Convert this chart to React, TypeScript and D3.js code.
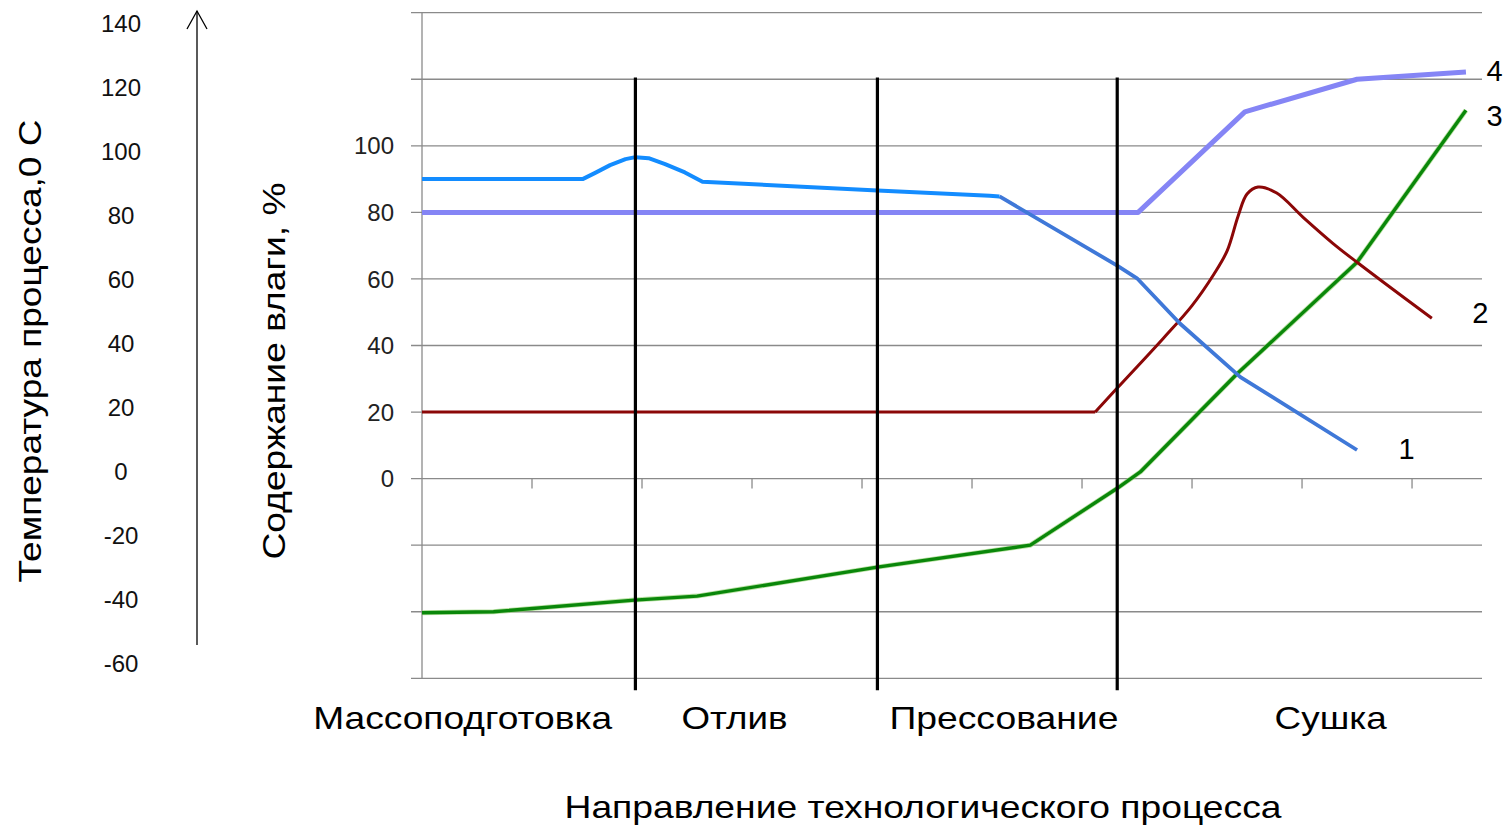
import React from "react";
import * as d3 from "d3";

// ---------- data ----------
// x in process units (axis tick step = 1), y in moisture scale units
const moistureTicks = [0, 20, 40, 60, 80, 100];
const gridValues = [-60, -40, -20, 0, 20, 40, 60, 80, 100, 120, 140];
const temperatureTicks = [140, 120, 100, 80, 60, 40, 20, 0, -20, -40, -60];
const xTicks = [1, 2, 3, 4, 5, 6, 7, 8, 9];
const stageBoundaries = [1.94, 4.14, 6.32];
const stageLabels = ["Массоподготовка", "Отлив", "Прессование", "Сушка"];
const stageCenters = [0.37, 2.84, 5.29, 8.26];
const stageWidths = [299, 106, 229, 112];

const series1Early: [number, number][] = [
  [0, 90], [1.46, 90], [1.57, 91.8], [1.71, 94.2], [1.85, 96], [1.94, 96.6],
  [2.06, 96.3], [2.21, 94.5], [2.39, 92], [2.55, 89.2], [4.14, 86.6], [5.16, 85.0], [5.25, 84.8],
];
const series1Late: [number, number][] = [
  [5.25, 84.8], [6.32, 64], [6.5, 60.2], [6.89, 46.6], [7.44, 30.5], [8.5, 8.6],
];
const series2Flat: [number, number][] = [
  [0, 20], [6.12, 20],
];
const series2Rise: [number, number][] = [
  [6.12, 20], [6.32, 27.2], [6.74, 42.2], [7.0, 52], [7.2, 61.5],
  [7.32, 68.5], [7.42, 79], [7.5, 85.5], [7.6, 87.6], [7.77, 85.8], [8.01, 78.5],
  [8.28, 70.7], [8.5, 65], [8.74, 59], [9.18, 48.2],
];
const series3: [number, number][] = [
  [0, -40.3], [0.65, -40], [1.93, -36.5], [2.5, -35.3], [4.14, -26.6], [5.53, -20],
  [6.32, -2.9], [6.53, 2], [7.41, 31.5], [8.5, 65], [9.49, 110.7],
];
const series4: [number, number][] = [
  [0, 80], [6.51, 80], [7.48, 110.2], [8.5, 120], [9.49, 122.2],
];
const seriesLabels = [
  { name: "1", x: 8.95, y: 9 },
  { name: "2", x: 9.62, y: 50 },
  { name: "3", x: 9.75, y: 109 },
  { name: "4", x: 9.75, y: 122.5 },
];

const W = 1506;
const H = 828;
const FONT = "'Liberation Sans', Arial, sans-serif";

export default function App() {
  const x = d3.scaleLinear().domain([0, 9.636]).range([422, 1482]);
  const y = d3.scaleLinear().domain([-60, 140]).range([678.3, 12.7]);
  const yTemp = d3.scaleLinear().domain([-60, 140]).range([663, 23]);

  const line = d3
    .line<[number, number]>()
    .x((d) => x(d[0]))
    .y((d) => y(d[1]));
  const smooth = d3
    .line<[number, number]>()
    .x((d) => x(d[0]))
    .y((d) => y(d[1]))
    .curve(d3.curveCatmullRom.alpha(0.5));

  return (
    <svg
      width={W}
      height={H}
      style={{ position: "absolute", left: 0, top: 0, background: "#fff" }}
      fontFamily={FONT}
    >
      <rect x={0} y={0} width={W} height={H} fill="#fff" />
      {/* grid lines */}
      {gridValues.map((v) => (
        <line key={v} x1={411} x2={1482} y1={y(v)} y2={y(v)} stroke="#8a8a8a" strokeWidth={1.3} />
      ))}
      {/* left plot axis */}
      <line x1={422} x2={422} y1={y(140)} y2={y(-60)} stroke="#8a8a8a" strokeWidth={1.3} />
      {/* x ticks on zero line */}
      {xTicks.map((t) => (
        <line key={t} x1={x(t)} x2={x(t)} y1={y(0)} y2={y(0) + 10} stroke="#8a8a8a" strokeWidth={1.3} />
      ))}
      {/* moisture labels */}
      {moistureTicks.map((v) => (
        <text key={v} x={394} y={y(v)} dy="0.36em" textAnchor="end" fontSize={24} fill="#222">
          {v}
        </text>
      ))}
      {/* temperature labels */}
      {temperatureTicks.map((v) => (
        <text key={v} x={121} y={yTemp(v)} dy="0.36em" textAnchor="middle" fontSize={24} fill="#111">
          {v}
        </text>
      ))}
      {/* arrow */}
      <line x1={197} x2={197} y1={11} y2={645} stroke="#000" strokeWidth={1.3} />
      <path d="M187,29 L197,11 L207,29" fill="none" stroke="#000" strokeWidth={1.3} />
      {/* axis titles */}
      <text
        transform="translate(41,351) rotate(-90)"
        textAnchor="middle"
        fontSize={32}
        textLength={463}
        lengthAdjust="spacingAndGlyphs"
        fill="#000"
      >
        Температура процесса,0 С
      </text>
      <text
        transform="translate(285,371) rotate(-90)"
        textAnchor="middle"
        fontSize={32}
        textLength={377}
        lengthAdjust="spacingAndGlyphs"
        fill="#000"
      >
        Содержание влаги, %
      </text>
      {/* series */}
      <path d={line(series4) || ""} fill="none" stroke="#8585f5" strokeWidth={5} strokeLinejoin="round" />
      <path d={line(series3) || ""} fill="none" stroke="#8fd06a" strokeWidth={5} strokeLinejoin="round" opacity={0.6} />
      <path d={line(series3) || ""} fill="none" stroke="#0a870a" strokeWidth={3.4} strokeLinejoin="round" />
      <path d={line(series2Flat) || ""} fill="none" stroke="#8b0707" strokeWidth={3} />
      <path d={smooth(series2Rise) || ""} fill="none" stroke="#8b0707" strokeWidth={3} strokeLinejoin="round" />
      <path d={line(series1Late) || ""} fill="none" stroke="#3f78d8" strokeWidth={3.8} strokeLinejoin="round" />
      <path d={line(series1Early) || ""} fill="none" stroke="#138cff" strokeWidth={4} strokeLinejoin="round" />
      {/* stage separators */}
      {stageBoundaries.map((b) => (
        <line key={b} x1={x(b)} x2={x(b)} y1={y(120.5)} y2={y(-63.6)} stroke="#000" strokeWidth={3.2} />
      ))}
      {/* series labels */}
      {seriesLabels.map((s) => (
        <text key={s.name} x={x(s.x)} y={y(s.y)} dy="0.36em" textAnchor="middle" fontSize={29} fill="#000">
          {s.name}
        </text>
      ))}
      {/* stage labels */}
      {stageLabels.map((s, i) => (
        <text
          key={s}
          x={x(stageCenters[i])}
          y={729}
          textAnchor="middle"
          fontSize={32}
          textLength={stageWidths[i]}
          lengthAdjust="spacingAndGlyphs"
          fill="#000"
        >
          {s}
        </text>
      ))}
      <text
        x={923}
        y={818}
        textAnchor="middle"
        fontSize={32}
        textLength={717}
        lengthAdjust="spacingAndGlyphs"
        fill="#000"
      >
        Направление технологического процесса
      </text>
    </svg>
  );
}
